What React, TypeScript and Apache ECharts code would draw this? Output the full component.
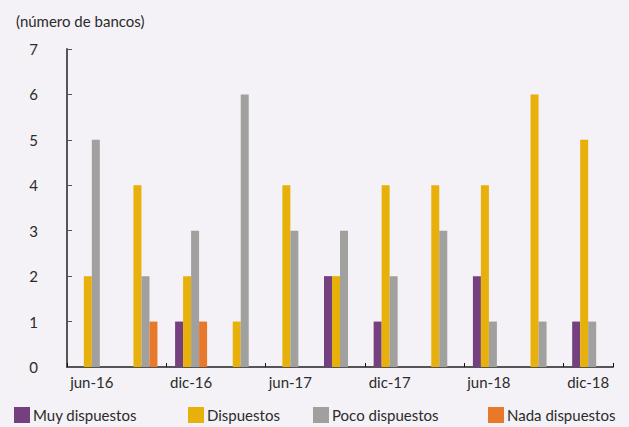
import React, { useEffect, useRef } from "react";
import * as echarts from "echarts";

const categories = ["jun-16", "sep-16", "dic-16", "mar-17", "jun-17", "sep-17", "dic-17", "mar-18", "jun-18", "sep-18", "dic-18"];
const muyDispuestos = [0, 0, 1, 0, 0, 2, 1, 0, 2, 0, 1];
const dispuestos = [2, 4, 2, 1, 4, 2, 4, 4, 4, 6, 5];
const pocoDispuestos = [5, 2, 3, 6, 3, 3, 2, 3, 1, 1, 1];
const nadaDispuestos = [0, 1, 1, 0, 0, 0, 0, 0, 0, 0, 0];
const yTicks = [0, 1, 2, 3, 4, 5, 6, 7];

const FONT = "Lato";
const TXT = "#2b2b2b";

export default function App() {
  const ref = useRef<HTMLDivElement>(null);
  useEffect(() => {
    if (!ref.current) return;
    const chart = echarts.init(ref.current, null, { renderer: "svg" });
    const names = ["Muy dispuestos", "Dispuestos", "Poco dispuestos", "Nada dispuestos"];
    const colors = ["#74407f", "#e8b00a", "#a0a09e", "#e8782a"];
    const datas = [muyDispuestos, dispuestos, pocoDispuestos, nadaDispuestos];
    const legendLefts = [14, 188, 313, 488];
    chart.setOption({
      animation: false,
      backgroundColor: "#f4f2f6",
      textStyle: { fontFamily: FONT, color: TXT },
      title: {
        text: "(número de bancos)",
        left: 11,
        top: 8,
        textStyle: { fontFamily: FONT, fontSize: 15, fontWeight: "normal", color: TXT },
      },
      legend: names.map((n, i) => ({
        data: [n],
        left: legendLefts[i] - 5,
        top: 402,
        itemWidth: 16,
        itemHeight: 16,
        itemGap: 0,
        icon: "rect",
        textStyle: { fontFamily: FONT, fontSize: 15, color: TXT, padding: [0, 0, 0, -2] },
      })),
      grid: { left: 67, right: 16, top: 49, bottom: 60, containLabel: false },
      xAxis: {
        type: "category",
        data: categories,
        axisLine: { lineStyle: { color: "#555", width: 2 } },
        axisTick: { show: true, inside: true, length: 4, lineStyle: { color: "#111" } },
        axisLabel: { interval: 1, margin: 7, fontSize: 15, color: TXT, fontFamily: FONT },
      },
      yAxis: {
        type: "value",
        min: yTicks[0],
        max: yTicks[yTicks.length - 1],
        interval: 1,
        splitLine: { show: false },
        axisLine: { show: true, lineStyle: { color: "#555", width: 2 } },
        axisTick: { show: true, inside: true, length: 5, lineStyle: { color: "#555" } },
        axisLabel: { margin: 29, fontSize: 15, color: TXT, fontFamily: FONT },
      },
      series: names.map((n, i) => ({
        name: n,
        type: "bar",
        data: datas[i],
        barWidth: 8,
        barGap: "0%",
        itemStyle: { color: colors[i] },
      })),
    });
    return () => chart.dispose();
  }, []);
  return <div ref={ref} style={{ width: 629, height: 427, position: "absolute", left: 0, top: 0 }} />;
}
